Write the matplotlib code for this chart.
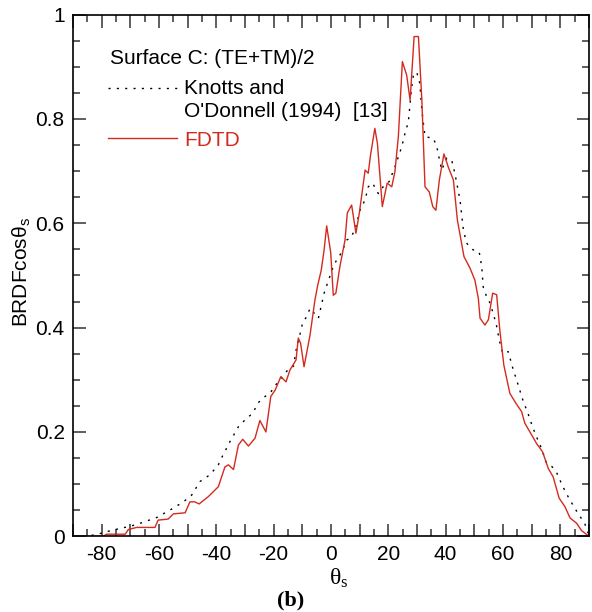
import matplotlib
matplotlib.use('Agg')
import numpy as np
import matplotlib.pyplot as plt
from matplotlib.ticker import MultipleLocator, FuncFormatter

plt.rcParams['font.family'] = ['Liberation Sans', 'DejaVu Sans']
plt.rcParams['mathtext.fontset'] = 'custom'
plt.rcParams['mathtext.rm'] = 'Liberation Serif'
plt.rcParams['mathtext.it'] = 'Liberation Serif'
plt.rcParams['mathtext.sf'] = 'Liberation Sans'
plt.rcParams['mathtext.default'] = 'rm'

# FDTD result (red solid)
fdtd_theta = [-85.8, -79.4, -78.3, -71.8, -70.7, -67.8, -61.4, -60.3, -56.8, -55.0,
              -50.9, -49.2, -47.5, -46.0, -42.8, -39.3, -37.0, -35.8, -34.0, -32.3,
              -30.8, -28.8, -26.5, -24.8, -22.7, -21.0, -19.5, -17.5, -15.7, -14.3,
              -12.2, -11.4, -10.6, -9.4, -7.3, -5.6, -4.6, -3.4, -2.4, -1.5,
              -0.1, 0.8, 1.7, 3.1, 4.9, 5.7, 7.2, 8.7, 9.9, 11.9,
              13.0, 13.8, 15.3, 16.2, 17.9, 19.6, 21.2, 22.3, 23.5, 24.9,
              26.4, 27.6, 29.0, 30.5, 31.7, 32.8, 34.3, 35.5, 36.6, 37.8,
              39.4, 40.9, 42.7, 44.1, 46.4, 48.5, 50.2, 51.4, 52.0, 53.7,
              54.9, 56.4, 57.8, 58.9, 60.3, 62.4, 64.5, 66.5, 67.6, 69.4,
              71.7, 73.8, 75.8, 77.5, 79.6, 81.6, 83.4, 85.7, 87.4, 90.0]
fdtd_val = [0.000, 0.000, 0.004, 0.004, 0.013, 0.017, 0.017, 0.031, 0.033, 0.043,
            0.045, 0.066, 0.066, 0.062, 0.076, 0.095, 0.133, 0.137, 0.128, 0.175,
            0.186, 0.173, 0.188, 0.222, 0.200, 0.268, 0.280, 0.306, 0.296, 0.319,
            0.338, 0.380, 0.370, 0.325, 0.386, 0.453, 0.482, 0.510, 0.549, 0.595,
            0.544, 0.462, 0.466, 0.517, 0.568, 0.620, 0.635, 0.581, 0.620, 0.702,
            0.696, 0.731, 0.782, 0.753, 0.632, 0.677, 0.670, 0.699, 0.766, 0.910,
            0.884, 0.836, 0.958, 0.958, 0.836, 0.670, 0.660, 0.632, 0.625, 0.683,
            0.733, 0.708, 0.683, 0.606, 0.536, 0.514, 0.491, 0.456, 0.418, 0.405,
            0.415, 0.466, 0.463, 0.395, 0.328, 0.274, 0.255, 0.239, 0.217, 0.200,
            0.178, 0.162, 0.130, 0.114, 0.073, 0.057, 0.035, 0.025, 0.011, 0.000]

# Knotts and O'Donnell (1994) (black dotted)
ko_theta = [-86.4, -82.0, -78.2, -73.6, -69.5, -66.0, -60.8, -55.0, -51.5, -48.6,
            -45.7, -42.2, -39.3, -38.2, -35.3, -32.3, -30.0, -27.3, -25.4, -23.0,
            -21.3, -19.0, -14.9, -13.1, -12.6, -12.0, -10.6, -9.9, -8.5, -7.3,
            -6.5, -4.4, -3.6, -2.4, -1.3, 0.8, 2.0, 3.7, 5.5, 6.6,
            8.4, 10.1, 11.9, 13.0, 14.5, 16.5, 18.2, 20.3, 22.3, 24.7,
            25.8, 27.0, 28.1, 28.7, 29.9, 31.0, 31.7, 32.8, 35.7, 36.9,
            38.6, 40.4, 42.1, 43.2, 45.0, 46.2, 47.3, 49.6, 51.7, 52.6,
            53.1, 54.3, 55.5, 57.6, 58.7, 59.9, 61.8, 63.6, 65.3, 67.1,
            68.5, 70.3, 71.9, 73.4, 75.2, 77.2, 78.8, 80.9, 83.0, 84.7,
            86.5, 88.5, 89.7]
ko_val = [0.000, 0.003, 0.009, 0.015, 0.020, 0.026, 0.036, 0.054, 0.066, 0.079,
          0.105, 0.118, 0.137, 0.150, 0.181, 0.210, 0.223, 0.236, 0.256, 0.268,
          0.274, 0.292, 0.320, 0.326, 0.343, 0.362, 0.392, 0.409, 0.421, 0.437,
          0.432, 0.418, 0.437, 0.466, 0.484, 0.517, 0.530, 0.544, 0.568, 0.571,
          0.587, 0.625, 0.645, 0.670, 0.677, 0.657, 0.670, 0.680, 0.708, 0.747,
          0.772, 0.795, 0.859, 0.882, 0.890, 0.868, 0.817, 0.766, 0.763, 0.747,
          0.702, 0.725, 0.721, 0.696, 0.645, 0.587, 0.562, 0.549, 0.545, 0.517,
          0.478, 0.459, 0.447, 0.408, 0.376, 0.351, 0.354, 0.319, 0.290, 0.258,
          0.239, 0.210, 0.188, 0.169, 0.140, 0.133, 0.121, 0.095, 0.073, 0.057,
          0.041, 0.025, 0.006]

red = '#d42a1e'
dots = (0, (1.5, 4.5))
fs = 15

fig = plt.figure(figsize=(5.92, 6.12), dpi=100)
ax = fig.add_axes([0.1233, 0.1237, 0.8716, 0.8524])

ax.plot(ko_theta, ko_val, color='black', lw=1.0, linestyle=dots)
ax.plot(fdtd_theta, fdtd_val, color=red, lw=1.0)

ax.set_xlim(-90, 90)
ax.set_ylim(0, 1)
ax.xaxis.set_major_locator(MultipleLocator(10))
ax.xaxis.set_minor_locator(MultipleLocator(5))
ax.xaxis.set_major_formatter(FuncFormatter(lambda v, p: '%d' % v if int(round(v)) % 20 == 0 else ''))
ax.yaxis.set_major_locator(MultipleLocator(0.2))
ax.yaxis.set_minor_locator(MultipleLocator(0.05))
ax.yaxis.set_major_formatter(FuncFormatter(lambda v, p: '%g' % round(v, 1)))
ax.tick_params(which='both', direction='in', top=True, right=True, labelsize=fs, width=1.1, color='#333333')
ax.tick_params(which='major', length=9, pad=6)
ax.tick_params(which='minor', length=5)
for s in ax.spines.values():
    s.set_linewidth(1.2)

ax.set_ylabel('BRDFcosθ$_\\mathsf{s}$', fontsize=fs)
ax.yaxis.set_label_coords(-0.08, 0.507)
ax.set_xlabel('$\\theta_s$', fontsize=17)
ax.xaxis.set_label_coords(0.5155, -0.058)
fig.text(0.4916, 0.0196, '(b)', fontsize=16, fontweight='bold', family='Liberation Serif', ha='center', va='center')

# legend drawn by hand so the dotted sample sits on the first text line
ax.text(0.072, 0.916, 'Surface C: (TE+TM)/2', transform=ax.transAxes, fontsize=fs, va='center')
ax.plot([0.068, 0.202], [0.859, 0.859], transform=ax.transAxes, color='black', lw=1.0, linestyle=dots)
ax.text(0.215, 0.859, 'Knotts and', transform=ax.transAxes, fontsize=fs, va='center')
ax.text(0.215, 0.814, "O'Donnell (1994)  [13]", transform=ax.transAxes, fontsize=fs, va='center')
ax.plot([0.068, 0.202], [0.764, 0.764], transform=ax.transAxes, color=red, lw=1.0)
ax.text(0.215, 0.758, 'FDTD', transform=ax.transAxes, fontsize=fs, va='center', color=red)

fig.savefig('out.png', dpi=100)
